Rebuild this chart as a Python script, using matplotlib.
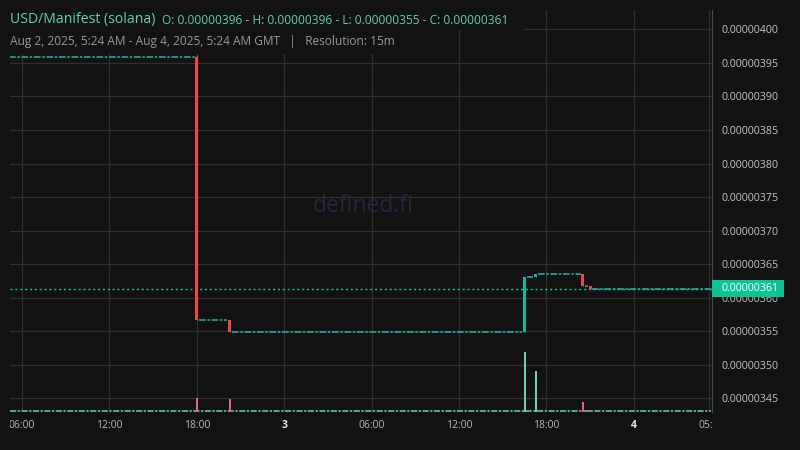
import matplotlib
matplotlib.use("Agg")
import matplotlib.pyplot as plt
from matplotlib.patches import Rectangle
from matplotlib.transforms import Bbox, TransformedBbox, blended_transform_factory

plt.rcParams['font.family'] = ['Open Sans', 'DejaVu Sans']

# ---- data (x = hours since Aug 2, 2025 00:00 GMT; prices in units of 1e-8) ----
candle_times = [18.0, 20.25, 40.5, 41.25, 44.5, 45.0]
candle_open = [395.8, 356.6, 354.95, 363.1, 363.55, 361.75]
candle_high = [396.2, 356.6, 363.1, 363.55, 363.55, 361.75]
candle_low = [356.6, 354.95, 354.95, 363.1, 361.75, 361.35]
candle_close = [356.6, 354.95, 363.1, 363.55, 361.75, 361.35]
candle_volume = [14, 13, 60, 41, 10, 2]

flat_start = [5.18, 18.25, 20.5, 40.75, 41.5, 44.75, 45.25]
flat_end = [17.75, 20.0, 40.25, 41.0, 44.25, 44.75, 53.25]
flat_price = [395.8, 356.6, 354.95, 363.1, 363.55, 361.75, 361.35]

last_price = 361.35
y_ticks = [345, 350, 355, 360, 365, 370, 375, 380, 385, 390, 395, 400]
x_ticks = [6, 12, 18, 24, 30, 36, 42, 48, 53.17]
x_labels = ["06:00", "12:00", "18:00", "3", "06:00", "12:00", "18:00", "4", "05:00"]
x_bold = [False, False, False, True, False, False, False, True, False]

BG = "#121212"
GRID = "#303030"
RED = "#ef4550"
GREEN = "#13b894"
FLAT = "#1faa9c"
VRED = "#e6677a"
VGREEN = "#6ad3ae"
LAST = "#10c896"
S = 1e-8
rect = [10 / 800, 38 / 450, 702 / 800, 402 / 450]

fig = plt.figure(figsize=(8, 4.5), dpi=100, facecolor=BG)
ax = fig.add_axes(rect)
ax.set_facecolor(BG)
ax.set_xlim(5.18, 53.36)
ax.set_ylim(342.96 * S, 402.88 * S)

# volume axes overlaid (no twinx, so the price ticks stay on the right)
ax2 = fig.add_axes(rect, sharex=ax)
ax2.set_facecolor("none")
ax2.set_ylim(0, 402)
ax2.axis("off")

# grid
ax.set_yticks([v * S for v in y_ticks])
ax.set_xticks(x_ticks)
ax.grid(True, color=GRID, lw=0.9)
ax.set_axisbelow(True)
ax.tick_params(axis='x', length=0, labelbottom=False)
ax.yaxis.tick_right()
ax.tick_params(axis='y', length=0, pad=7.2, labelsize=7.7, labelcolor="#c4c4c4",
               left=False, labelleft=False, right=False, labelright=True)
ax.set_yticklabels(["%.8f" % (v * S) for v in y_ticks])
for s in ["top", "left", "bottom"]:
    ax.spines[s].set_visible(False)
ax.spines["right"].set_color("#4a4a4a")

# watermark
ax.text(0.503, 0.512, "defined.fi", transform=ax.transAxes, ha="center", va="center",
        fontsize=16.5, color="#262643", zorder=0)

# flat candles
for s0, s1, p in zip(flat_start, flat_end, flat_price):
    ax.plot([s0 - 0.1, s1 + 0.1], [p * S, p * S], color=FLAT, lw=1.2,
            dashes=[4, 1.0, 1.5, 1.0], zorder=3)

# candles
for t, o, h, l, c in zip(candle_times, candle_open, candle_high, candle_low, candle_close):
    col = GREEN if c >= o else RED
    ax.vlines(t, l * S, h * S, color=col, lw=0.8, zorder=4)
    ax.bar(t, (c - o) * S, bottom=o * S, width=0.21, color=col, zorder=4, linewidth=0)

# last price line
ax.axhline(last_price * S, color=LAST, lw=1.0, dashes=[1.5, 2.0], zorder=3)
bt = blended_transform_factory(ax.transAxes, ax.transData)
ax.add_patch(Rectangle((1.0, (last_price - 1.27) * S), 72 / 702, 2.53 * S, transform=bt,
                       facecolor="#0fc494", edgecolor="none", clip_on=False, zorder=6))
ax.text(1.0 + 10 / 702, last_price * S, "%.8f" % (last_price * S), transform=bt,
        ha="left", va="center", fontsize=7.7, color="white", zorder=7, clip_on=False)

# volume
ax2.plot([5.18, 53.3], [0.6, 0.6], color=VGREEN, lw=1.1, dashes=[4, 1.0, 1.5, 1.0], zorder=2)
for t, o, c, v in zip(candle_times, candle_open, candle_close, candle_volume):
    ax2.bar(t, v, width=0.14, color=VGREEN if c >= o else VRED, linewidth=0, zorder=3)

# x tick labels, clipped to the plot width
clipbox = TransformedBbox(Bbox([[0, -0.2], [1, 1]]), ax.transAxes)
xt = ax.get_xaxis_transform()
for x, lab, b in zip(x_ticks, x_labels, x_bold):
    t = ax.text(x + (0.15 if x > 53 else 0), -13 / 402, lab, transform=xt, ha="center",
                va="center", fontsize=7.5, color="#e8e8e8" if b else "#b8b8b8",
                fontweight="bold" if b else "normal")
    t.set_clip_path(None)
    t.set_clip_box(clipbox)
    t.set_clip_on(True)

# header boxes
fig.patches.append(Rectangle((0, 1 - 30 / 450), 524 / 800, 30 / 450, transform=fig.transFigure,
                             facecolor=BG, edgecolor="none", zorder=5))
fig.patches.append(Rectangle((0, 1 - 54 / 450), 458 / 800, 24 / 450, transform=fig.transFigure,
                             facecolor=BG, edgecolor="none", zorder=5))
fig.text(10 / 800, 1 - 20 / 450, "USD/Manifest (solana)", fontsize=10.1, color="#5fd3ad",
         va="center", ha="left", zorder=10)
fig.text(162 / 800, 1 - 20 / 450,
         "O: 0.00000396 - H: 0.00000396 - L: 0.00000355 - C: 0.00000361",
         fontsize=8.6, color="#5fd3ad", va="center", ha="left", zorder=10)
fig.text(10 / 800, 1 - 41 / 450,
         "Aug 2, 2025, 5:24 AM - Aug 4, 2025, 5:24 AM GMT   |   Resolution: 15m",
         fontsize=8.6, color="#9a9a9a", va="center", ha="left", zorder=10)

fig.savefig("out.png", dpi=100, facecolor=BG)
